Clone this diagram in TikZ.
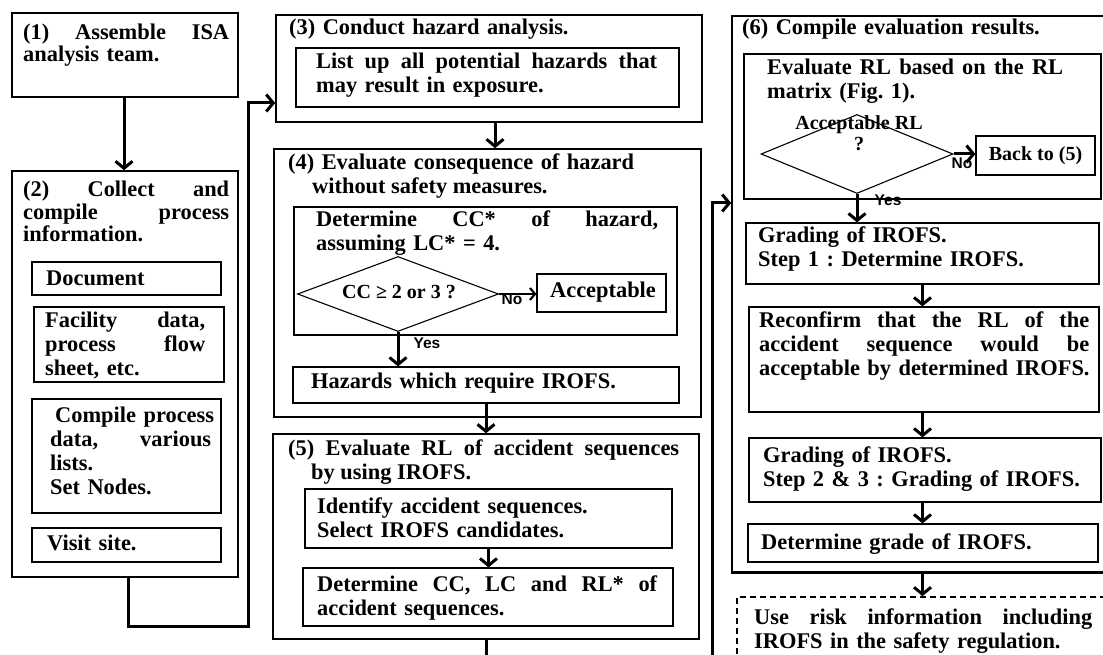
\documentclass[tikz,border=0pt]{standalone}
\usepackage{fontspec}
\setmainfont{Liberation Serif}
\newfontfamily\labelfont{Liberation Sans}
\usetikzlibrary{arrows.meta,fit,shapes.geometric}

% a justified line of given width (in pt): spaces stretch to fill it
\newcommand\jl[2]{\makebox[#1pt][s]{\spaceskip=0pt\xspaceskip=0pt\relax #2}}

\tikzset{
  outerbox/.style={draw, line width=1.6pt, inner sep=0pt},
  innerbox/.style={draw, line width=1.2pt, inner sep=0pt},
  dashbox/.style={draw, line width=1.6pt, dash pattern=on 6pt off 4pt, inner sep=0pt},
  txt/.style={inner sep=0pt, anchor=base west, align=left, text width=420pt,
              font=\bfseries\fontsize{22.4}{24}\selectfont\frenchspacing},
  tighttxt/.style={txt, font=\bfseries\fontsize{22.4}{22}\selectfont\frenchspacing},
  line/.style={inner sep=0pt, font=\bfseries\fontsize{22.4}{24}\selectfont\frenchspacing},
  smalltxt/.style={inner sep=0pt, align=center,
              font=\bfseries\fontsize{20}{21}\selectfont},
  yn/.style={inner sep=0pt, font=\labelfont\bfseries\fontsize{15.5}{16}\selectfont},
  decision/.style={draw, diamond, line width=1.1pt, inner sep=0pt},
  flow/.style={line width=3pt, -{Straight Barb[length=7pt,width=17pt]}},
  flowthin/.style={line width=2.2pt, -{Straight Barb[length=5pt,width=12pt]}},
}

\begin{document}
\begin{tikzpicture}[x=1pt,y=-1pt]
\useasboundingbox (0,0) rectangle (1103,655);
\fill[white] (0,0) rectangle (1103,655);
\clip (0,0) rectangle (1103,655);

% ---------- column 1 ----------
\node[outerbox, fit={(12,13) (238,97)}] (b1) {};
\node[tighttxt] (t1) at (23,40) {\jl{206}{(1) Assemble ISA}\\analysis team.};

\node[outerbox, fit={(12,171) (238,577)}] (b2) {};
\node[tighttxt] (t2) at (23,197) {\jl{206}{(2) Collect and}\\\jl{206}{compile process}\\information.};
\node[innerbox, fit={(32,262) (221,295)}] (doc) {};
\node[txt] (tdoc) at (46,285) {Document};
\node[innerbox, fit={(34,307) (224,382)}] (fac) {};
\node[txt] (tfac) at (45,327) {\jl{160}{Facility data,}\\\jl{160}{process flow}\\sheet, etc.};
\node[innerbox, fit={(32,399) (221,513)}] (comp) {};
\node[txt] (tcomp) at (55,422) {Compile process};
\node[txt] (tcomp2) at (50,446) {\jl{161}{data, various}\\lists.\\Set Nodes.};
\node[innerbox, fit={(32,528) (221,562)}] (visit) {};
\node[txt] (tvis) at (47,550) {Visit site.};

% ---------- column 2 ----------
\node[outerbox, fit={(276,15) (702,122)}] (b3) {};
\node[txt] (t3) at (289,35) {(3) Conduct hazard analysis.};
\node[innerbox, fit={(296,48) (679,107)}] (list) {};
\node[txt] (t3b) at (316,69) {\jl{341}{List up all potential hazards that}\\may result in exposure.};

\node[outerbox, fit={(274,149) (701,417)}] (b4) {};
\node[txt] (t4) at (288,170) {(4) Evaluate consequence of hazard};
\node[line, anchor=base west] (t4l2) at (312,194) {without safety measures.};
\node[innerbox, fit={(294,207) (677,335)}] (cc) {};
\node[txt] (t4b) at (316,227) {\jl{342}{Determine CC* of hazard,}\\assuming LC* = 4.};
\node[decision, minimum width=201pt, minimum height=75pt] (d1) at (398,294) {};
\node[smalltxt, anchor=base] (tq1) at (399,298) {CC ≥ 2 or 3 ?};
\node[innerbox, fit={(537,274) (666,312)}] (acc) {};
\node[line, anchor=base] (tacc) at (603,297) {Acceptable};
\node[innerbox, fit={(293,367) (679,403)}] (haz) {};
\node[txt] (thaz) at (311,388) {Hazards which require IROFS.};
\node[yn] (no1) at (512,299) {No};
\node[yn] (yes1) at (427,343) {Yes};

\node[outerbox, line width=1.4pt, fit={(273,434) (699,639)}] (b5) {};
\node[txt] (t5) at (288,455) {\jl{391}{(5) Evaluate RL of accident sequences}};
\node[line, anchor=base west] (t5l2) at (311,479) {by using IROFS.};
\node[innerbox, fit={(305,489) (672,548)}] (ident) {};
\node[txt] (t5a) at (317,513) {Identify accident sequences.\\Select IROFS candidates.};
\node[innerbox, fit={(303,568) (673,626)}] (detcc) {};
\node[txt] (t5b) at (317,591) {\jl{340}{Determine CC, LC and RL* of}\\accident sequences.};

% ---------- column 3 ----------
\node[outerbox, fit={(732,16) (1115,572)}] (b6) {};
\draw[line width=3pt] (b6.south west) -- (b6.south east);
\node[txt] (t6) at (742,35) {(6) Compile evaluation results.};
\node[innerbox, fit={(744,54) (1101,199)}] (evrl) {};
\node[txt] (t6a) at (767,75) {\jl{296}{Evaluate RL based on the RL}\\matrix (Fig. 1).};
\node[decision, minimum width=192pt, minimum height=79pt] (d2) at (857,154) {};
\node[smalltxt, anchor=base] (tq2) at (859,151) {Acceptable RL\\?};
\node[innerbox, fit={(976,136) (1095,175)}] (back) {};
\node[smalltxt] (tback) at (back) {Back to (5)};
\node[innerbox, fit={(746,223) (1099,284)}] (g1) {};
\node[txt] (tg1) at (758,243) {Grading of IROFS.\\Step 1 : Determine IROFS.};
\node[innerbox, fit={(749,307) (1099,412)}] (rc) {};
\node[txt] (trc) at (759,327) {\jl{330}{Reconfirm that the RL of the}\\\jl{330}{accident sequence would be}\\acceptable by determined IROFS.};
\node[innerbox, fit={(749,438) (1101,502)}] (g2) {};
\node[txt] (tg2) at (763,462) {Grading of IROFS.\\Step 2 \& 3 : Grading of IROFS.};
\node[innerbox, fit={(748,524) (1098,562)}] (dg) {};
\node[txt] (tdg) at (761,549) {Determine grade of IROFS.};

\node[dashbox, fit={(737,597) (1120,700)}] (use) {};
\node[txt] (tuse) at (754,624) {\jl{338}{Use risk information including}\\IROFS in the safety regulation.};

% ---------- connectors ----------
\coordinate (r1) at (248,626);
\coordinate (r2) at (712,690);

\draw[flow] ([xshift=-1pt]b1.south) -- ([xshift=-1pt]b1.south |- b2.north);
\draw[flow] ([xshift=3pt]b2.south) |- (r1) |- ([yshift=-34.5pt]b3.west);
\draw[flow] ([xshift=6pt]b3.south) -- ([xshift=6pt]b3.south |- b4.north);
\draw[flowthin] (d1.east) -- (d1.east -| acc.west);
\draw[flow] (d1.south) -- (d1.south |- haz.north);
\draw[flow] (haz.south) -- (haz.south |- b5.north);
\draw[flow] (ident.south) -- (ident.south |- detcc.north);
\draw[flow] (b5.south) |- (r2) |- ([yshift=91pt]b6.west);

\draw[flow] (d2.east) -- (d2.east -| back.west);
\draw[flow] (d2.south) -- (d2.south |- g1.north);
\node[yn] (no2) at (962,163) {No};
\node[yn] (yes2) at (888,200) {Yes};
\draw[flow] (g1.south) -- (g1.south |- rc.north);
\draw[flow] (g1.south |- rc.south) -- (g1.south |- g2.north);
\draw[flow] (g1.south |- g2.south) -- (g1.south |- dg.north);
\draw[flow] (g1.south |- b6.south) -- (g1.south |- use.north);
\end{tikzpicture}
\end{document}
